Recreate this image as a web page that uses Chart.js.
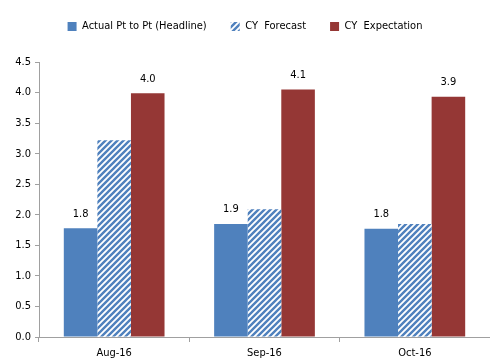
<!DOCTYPE html>
<html>
<head>
<meta charset="utf-8">
<script src="https://cdn.jsdelivr.net/npm/chart.js@4.4.0/dist/chart.umd.min.js"></script>
<style>
  html, body { margin: 0; padding: 0; background: #fff; }
  #wrap { width: 490px; height: 363px; }
</style>
</head>
<body>
<div id="wrap"><canvas id="myChart" width="490" height="363"></canvas></div>
<script>
const months = ["Aug-16", "Sep-16", "Oct-16"];
const actualValues = [1.78, 1.85, 1.77];
const forecastValues = [3.22, 2.09, 1.85];
const expectationValues = [3.99, 4.05, 3.93];
const actualLabels = ["1.8", "1.9", "1.8"];
const expectationLabels = ["4.0", "4.1", "3.9"];
const yTicks = [0, 0.5, 1, 1.5, 2, 2.5, 3, 3.5, 4, 4.5];

const FONT = "'Liberation Sans Narrow', 'Arial Narrow', 'DejaVu Sans Condensed', sans-serif";
const blue = "#4f81bd";
const red = "#953735";

// diagonal stripes for the forecast bars
const makeHatch = () => {
  const c = document.createElement("canvas");
  c.width = 6; c.height = 6;
  const g = c.getContext("2d");
  g.fillStyle = "#fff";
  g.fillRect(0, 0, 6, 6);
  g.strokeStyle = blue;
  g.lineWidth = 2.4;
  g.beginPath();
  g.moveTo(-1, 7); g.lineTo(7, -1);
  g.moveTo(-4, 4); g.lineTo(4, -4);
  g.moveTo(2, 10); g.lineTo(10, 2);
  g.stroke();
  return document.getElementById("myChart").getContext("2d").createPattern(c, "repeat");
};
const hatch = makeHatch();

// value labels over the blue and red bars
const valueLabels = {
  id: "valueLabels",
  afterDatasetsDraw(chart) {
    const ctx = chart.ctx;
    ctx.save();
    ctx.font = "11px " + FONT;
    ctx.fillStyle = "#000";
    ctx.textAlign = "center";
    ctx.textBaseline = "bottom";
    [[0, actualLabels], [2, expectationLabels]].forEach(([i, labels]) => {
      chart.getDatasetMeta(i).data.forEach((bar, j) => {
        ctx.fillText(labels[j], bar.x, bar.y - 9);
      });
    });
    ctx.restore();
  }
};

const legendSpace = {
  id: "legendSpace",
  beforeInit(chart) {
    const fit = chart.legend.fit;
    chart.legend.fit = function () {
      fit.bind(chart.legend)();
      this.height += 20;
    };
  }
};

new Chart(document.getElementById("myChart").getContext("2d"), {
  type: "bar",
  data: {
    labels: months,
    datasets: [
      { label: "Actual Pt to Pt (Headline)", data: actualValues, backgroundColor: blue },
      { label: "CY  Forecast", data: forecastValues, backgroundColor: hatch },
      { label: "CY  Expectation", data: expectationValues, backgroundColor: red }
    ]
  },
  options: {
    responsive: false,
    animation: false,
    devicePixelRatio: 1,
    layout: { padding: { top: -3, right: 0, left: 0, bottom: 0 } },
    datasets: { bar: { categoryPercentage: 0.67, barPercentage: 1.0 } },
    plugins: {
      tooltip: { enabled: false },
      legend: {
        position: "top",
        labels: {
          boxWidth: 9,
          boxHeight: 9,
          padding: 24,
          color: "#000",
          font: { family: FONT, size: 11 }
        }
      }
    },
    scales: {
      x: {
        afterFit: (s) => { s.height = 26; },
        grid: { display: true, drawOnChartArea: false, offset: true, tickLength: 5, color: "#a0a0a0" },
        border: { color: "#a0a0a0" },
        ticks: { color: "#000", font: { family: FONT, size: 11 }, padding: 5 }
      },
      y: {
        min: 0,
        max: 4.5,
        afterFit: (s) => { s.width = 39; },
        afterBuildTicks: (s) => { s.ticks = yTicks.map(v => ({ value: v })); },
        grid: { display: true, drawOnChartArea: false, tickLength: 4, color: "#a0a0a0" },
        border: { color: "#a0a0a0", dash: [2, 2] },
        ticks: {
          color: "#000",
          font: { family: FONT, size: 11 },
          padding: 4,
          callback: (v) => Number(v).toFixed(1)
        }
      }
    }
  },
  plugins: [valueLabels, legendSpace]
});
</script>
</body>
</html>
